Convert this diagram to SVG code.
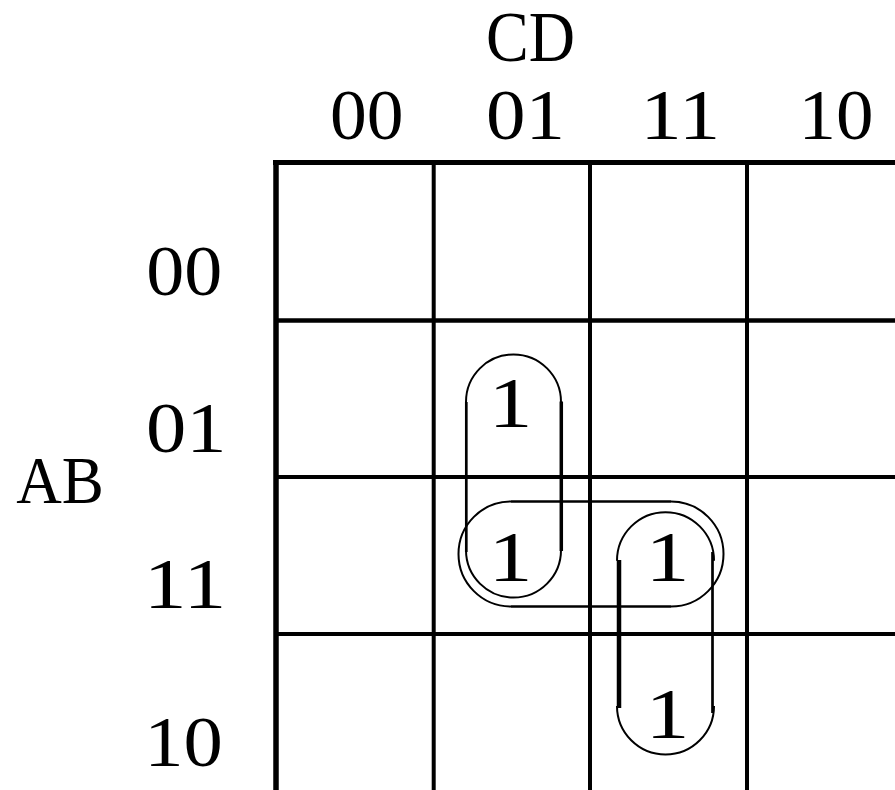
<svg xmlns="http://www.w3.org/2000/svg" width="895" height="790" viewBox="0 0 895 790">
<style>
.t{font-family:"Liberation Serif","Times New Roman",serif;font-size:72px;fill:#000;text-anchor:middle}
.g{stroke:#000;fill:none}
.loop{stroke:#000;fill:none;stroke-width:2}
</style>
<rect width="895" height="790" fill="#fff"/>
<g id="grid">
<line class="g" x1="273" y1="162.5" x2="895" y2="162.5" stroke-width="5"/>
<line class="g" x1="276" y1="160" x2="276" y2="790" stroke-width="5.5"/>
<line class="g" x1="433.7" y1="162" x2="433.7" y2="790" stroke-width="4"/>
<line class="g" x1="590" y1="162" x2="590" y2="790" stroke-width="4"/>
<line class="g" x1="747" y1="162" x2="747" y2="790" stroke-width="4"/>
<line class="g" x1="276" y1="320.5" x2="895" y2="320.5" stroke-width="4.5"/>
<line class="g" x1="276" y1="477" x2="895" y2="477" stroke-width="4"/>
<line class="g" x1="276" y1="634" x2="895" y2="634" stroke-width="4"/>
</g>
<g id="col-labels">
<text class="t" x="530.5" y="60.5" textLength="89" lengthAdjust="spacingAndGlyphs">CD</text>
<text class="t" x="366.7" y="138.5" textLength="73.5" lengthAdjust="spacingAndGlyphs">00</text>
<text class="t" x="525.5" y="138.5" textLength="79" lengthAdjust="spacingAndGlyphs">01</text>
<text class="t" x="680.3" y="138.5" textLength="80" lengthAdjust="spacingAndGlyphs">11</text>
<text class="t" x="835.9" y="138.5" textLength="75" lengthAdjust="spacingAndGlyphs">10</text>
</g>
<g id="row-labels">
<text class="t" x="60" y="503" style="font-size:68px" textLength="87.6" lengthAdjust="spacingAndGlyphs">AB</text>
<text class="t" x="184.3" y="295" textLength="76" lengthAdjust="spacingAndGlyphs">00</text>
<text class="t" x="186.3" y="452" textLength="80.5" lengthAdjust="spacingAndGlyphs">01</text>
<text class="t" x="185" y="608" textLength="82.5" lengthAdjust="spacingAndGlyphs">11</text>
<text class="t" x="183.6" y="765.5" textLength="78.6" lengthAdjust="spacingAndGlyphs">10</text>
</g>
<g id="cells">
<text class="t" x="510.5" y="427" textLength="44" lengthAdjust="spacingAndGlyphs">1</text>
<text class="t" x="510.5" y="581" textLength="44" lengthAdjust="spacingAndGlyphs">1</text>
<text class="t" x="667.5" y="581" textLength="44" lengthAdjust="spacingAndGlyphs">1</text>
<text class="t" x="667.5" y="738" textLength="44" lengthAdjust="spacingAndGlyphs">1</text>
</g>
<g id="loops">
<g id="loop-col01">
<path class="loop" d="M466 402 A47.5 47.5 0 0 1 561 402"/>
<path class="loop" d="M466 550 A47.5 47.5 0 0 0 561 550"/>
<line class="g" x1="466.3" y1="402" x2="466.3" y2="552" stroke-width="2.7"/>
<line class="g" x1="561.3" y1="401.5" x2="561.3" y2="551" stroke-width="3.5"/>
</g>
<g id="loop-row11">
<path class="loop" d="M511 501.5 A52.5 52.5 0 0 0 511 606.5"/>
<path class="loop" d="M671 501.5 A52.5 52.5 0 0 1 671 606.5"/>
<line class="g" x1="511" y1="501.5" x2="671" y2="501.5" stroke-width="2.7"/>
<line class="g" x1="511" y1="606.5" x2="671" y2="606.5" stroke-width="2.7"/>
</g>
<g id="loop-col11">
<path class="loop" d="M617 560.7 A48.5 48.5 0 0 1 714 560.7"/>
<path class="loop" d="M617 706 A48.5 48.5 0 0 0 714 706"/>
<line class="g" x1="619" y1="560" x2="619" y2="708" stroke-width="4.5"/>
<line class="g" x1="712.5" y1="552" x2="712.5" y2="713" stroke-width="2.7"/>
</g>
</g>
</svg>
